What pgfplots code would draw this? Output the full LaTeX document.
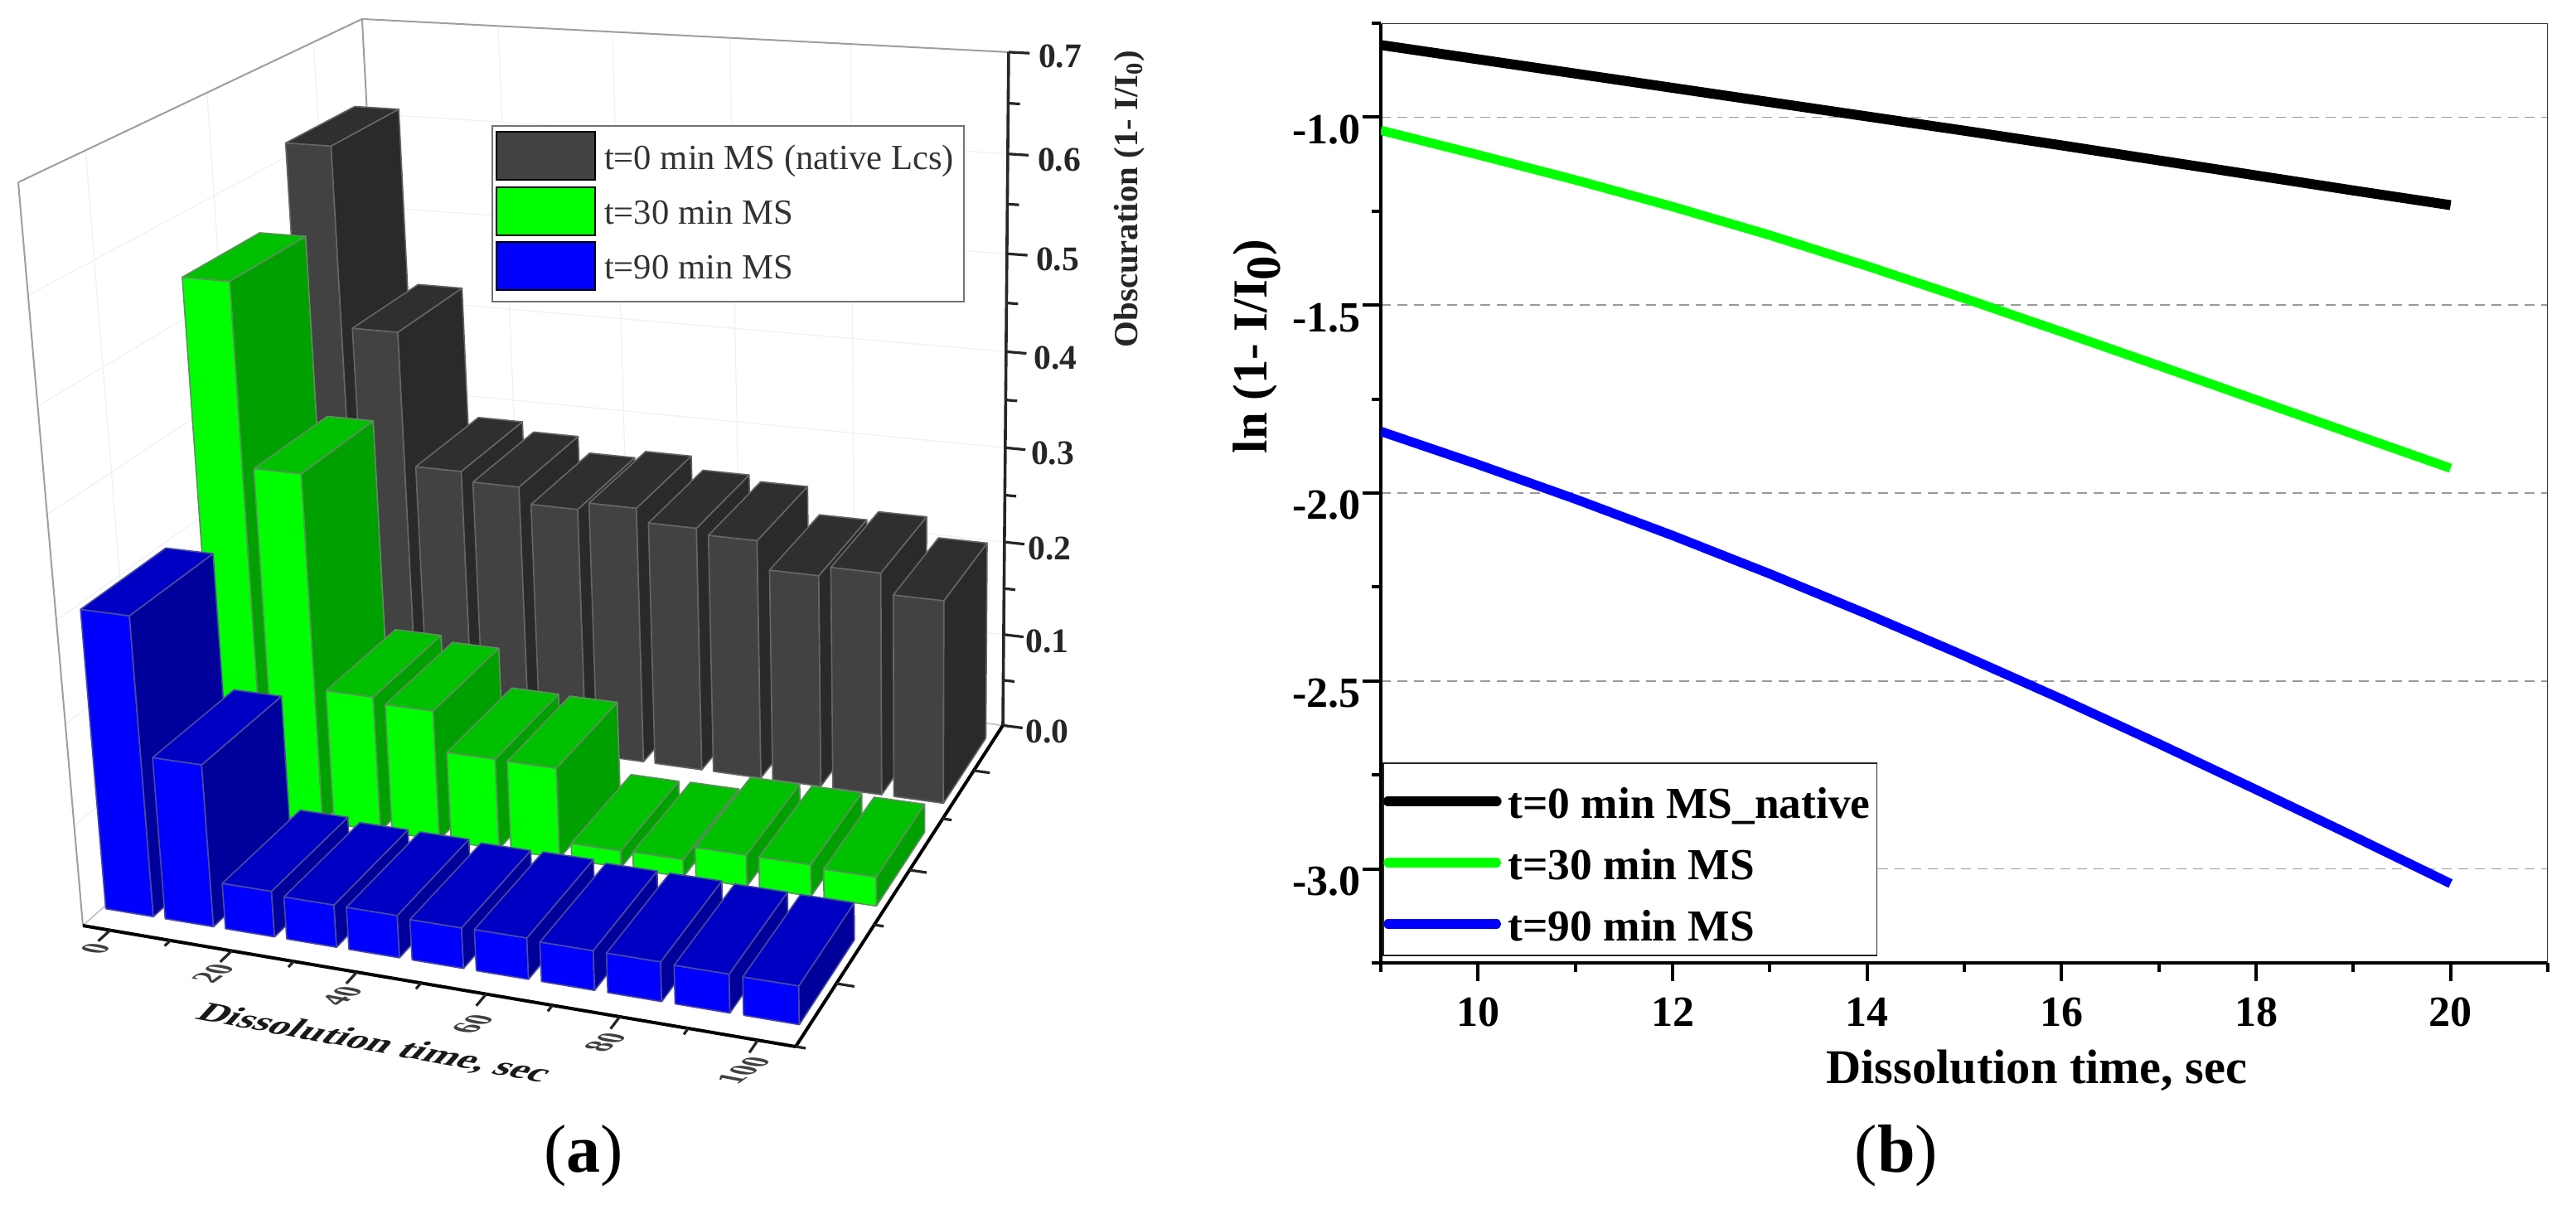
\documentclass[border=0pt]{standalone}
\usepackage{fontspec}
\setmainfont{Liberation Serif}
\usepackage{pgfplots}
\usepackage{pgfplotstable}
\pgfplotsset{compat=1.18}

\definecolor{grayfront}{HTML}{424242}
\definecolor{graytop}{HTML}{2F2F2F}
\definecolor{grayside}{HTML}{2A2A2A}
\definecolor{grayedge}{HTML}{666666}
\definecolor{greenfront}{HTML}{00FF00}
\definecolor{greentop}{HTML}{00C000}
\definecolor{greenside}{HTML}{00A000}
\definecolor{greenedge}{HTML}{5F8F5F}
\definecolor{bluefront}{HTML}{0000FF}
\definecolor{bluetop}{HTML}{0000C4}
\definecolor{blueside}{HTML}{00009A}
\definecolor{blueedge}{HTML}{4A4AA0}

% panel (a): obscuration against dissolution time
\pgfplotstableread{
t   native  mid     late
0   0.616   0.542   0.297
10  0.430   0.359   0.161
20  0.290   0.140   0.0456
30  0.280   0.134   0.0420
40  0.263   0.0931  0.0417
50  0.271   0.0926  0.0398
60  0.257   0.0171  0.0403
70  0.251   0.0178  0.0384
80  0.222   0.0320  0.0382
90  0.232   0.0318  0.0371
100 0.211   0.0292  0.0366
}\obsdata

% panel (b): ln(1-I/I0)
\pgfplotstableread{
t   native  mid     late
9   -0.808  -1.035  -1.836
10  -0.846  -1.100  -1.924
11  -0.884  -1.167  -2.016
12  -0.922  -1.238  -2.113
13  -0.960  -1.314  -2.215
14  -0.998  -1.396  -2.322
15  -1.036  -1.482  -2.433
16  -1.075  -1.571  -2.548
17  -1.115  -1.661  -2.667
18  -1.155  -1.752  -2.789
19  -1.195  -1.843  -2.913
20  -1.234  -1.934  -3.039
}\lndata

% perspective of the 3D box of panel (a): unit box to picture pixels
\newcommand\proj[3]{%
  \pgfmathsetmacro\prW{1-.084*(#1)+.2019*(#2)-.07176*(#3)}%
  \pgfmathsetmacro\prU{(100+779.36*(#1)+473.3*(#2)-79.58*(#3))/\prW}%
  \pgfmathsetmacro\prV{(1117+39.9*(#1)-178.3*(#2)-912.8*(#3))/\prW}%
}
\newcommand\startpts{\gdef\pts{}}
\newcommand\addpt[3]{\proj{#1}{#2}{#3}\xdef\pts{\pts(\prU,\prV)}}
\newcommand\flushpts[1]{%
  \edef\tmp{\noexpand\addplot[forget plot,#1] coordinates {\pts};}\tmp}
\newcommand\seg[7]{\startpts\addpt{#1}{#2}{#3}\addpt{#4}{#5}{#6}\flushpts{#7}}
% time in seconds to box coordinate
\newcommand\timeX[2]{\pgfmathsetmacro#1{.0417+.0091*(#2)}}

% #1 time, #2 front of the row, #3 value, #4 colour stem
\newcommand\drawbar[4]{%
  \timeX\Xc{#1}%
  \pgfmathsetmacro\Xa{\Xc-.0365}%
  \pgfmathsetmacro\Xb{\Xc+.0365}%
  \pgfmathsetmacro\Yb{#2+.233}%
  \pgfmathsetmacro\Zt{(#3)/.7}%
  \startpts\addpt{\Xa}{#2}{0}\addpt{\Xb}{#2}{0}\addpt{\Xb}{#2}{\Zt}\addpt{\Xa}{#2}{\Zt}\addpt{\Xa}{#2}{0}%
  \flushpts{fill=#4front,draw=#4edge,line width=.4pt,line join=round}%
  \startpts\addpt{\Xb}{#2}{0}\addpt{\Xb}{\Yb}{0}\addpt{\Xb}{\Yb}{\Zt}\addpt{\Xb}{#2}{\Zt}\addpt{\Xb}{#2}{0}%
  \flushpts{fill=#4side,draw=#4edge,line width=.4pt,line join=round}%
  \startpts\addpt{\Xa}{#2}{\Zt}\addpt{\Xb}{#2}{\Zt}\addpt{\Xb}{\Yb}{\Zt}\addpt{\Xa}{\Yb}{\Zt}\addpt{\Xa}{#2}{\Zt}%
  \flushpts{fill=#4top,draw=#4edge,line width=.4pt,line join=round}%
}
\newcommand\drawrow[3]{%
  \foreach \i in {0,...,10}{%
    \pgfplotstablegetelem{\i}{t}\of\obsdata\let\tv\pgfplotsretval
    \pgfplotstablegetelem{\i}{#1}\of\obsdata\let\vv\pgfplotsretval
    \drawbar{\tv}{#2}{\vv}{#3}%
  }%
}
\tikzset{
  floortext/.style={cm={.72,.5,-1.05,.2,(0,0)},transform shape,text=black!75,
    font=\fontsize{10}{10}\selectfont\bfseries},
  ztick/.style={font=\fontsize{10.4}{10.4}\selectfont\bfseries,text=black!85},
}

\begin{document}
\begin{tikzpicture}
\useasboundingbox (0,0) rectangle (777pt,364.5pt);

\begin{axis}[
  name=left,
  at={(0pt,0pt)},anchor=south west,
  scale only axis,width=388.5pt,height=364.5pt,
  xmin=0,xmax=1554,ymin=0,ymax=1458,y dir=reverse,
  hide axis,clip=false,
  legend image code/.code={\fill[#1] (3pt,-5.25pt) rectangle (32.75pt,9.25pt);\path (33.25pt,0pt);},
  legend cell align=left,
  legend style={at={(axis cs:593,151)},anchor=north west,draw=black!55,line width=.5pt,
    inner xsep=1pt,inner ysep=1.6pt,row sep=-.2pt,
    nodes={font=\fontsize{10.66}{12}\selectfont,text=black!80,inner ysep=0pt,inner xsep=2pt,
      text height=9.25pt,text depth=5.25pt}},
]
\addlegendimage{fill=grayfront}\addlegendentry{t=0 min MS (native Lcs)}
\addlegendimage{fill=greenfront}\addlegendentry{t=30 min MS}
\addlegendimage{fill=bluefront}\addlegendentry{t=90 min MS}

% faint grid on the walls
\foreach \z in {.14286,.28571,.42857,.57143,.71429,.85714}{%
  \seg{0}{0}{\z}{0}{1}{\z}{black!6,line width=.3pt}%
  \seg{0}{1}{\z}{1}{1}{\z}{black!6,line width=.3pt}}
\foreach \y in {.16667,.5,.83333}{\seg{0}{\y}{0}{0}{\y}{1}{black!6,line width=.3pt}}
\foreach \x in {.2237,.4057,.5877,.7697}{\seg{\x}{1}{0}{\x}{1}{1}{black!6,line width=.3pt}}

% box edges
\seg{0}{0}{0}{0}{0}{1}{black!38,line width=.5pt}
\seg{0}{0}{1}{0}{1}{1}{black!38,line width=.5pt}
\seg{0}{1}{1}{1}{1}{1}{black!38,line width=.5pt}
\seg{0}{1}{0}{0}{1}{1}{black!38,line width=.5pt}
\seg{0}{0}{0}{0}{1}{0}{black!25,line width=.4pt}
\seg{0}{1}{0}{1}{1}{0}{black!25,line width=.4pt}

% bars, back row first
\drawrow{native}{.715}{gray}
\drawrow{mid}{.385}{green}
\drawrow{late}{.0525}{blue}

% axes
\seg{0}{0}{0}{1}{0}{0}{black,line width=1pt}
\seg{1}{0}{0}{1}{1}{0}{black,line width=1pt}
\seg{1}{1}{0}{1}{1}{1}{black!85,line width=.9pt}
\foreach \t in {0,20,40,60,80,100}{\timeX\xx{\t}\seg{\xx}{0}{0}{\xx}{-.032}{0}{black!85,line width=.8pt}}
\foreach \t in {10,30,50,70,90}{\timeX\xx{\t}\seg{\xx}{0}{0}{\xx}{-.016}{0}{black!85,line width=.8pt}}
\foreach \y in {.16667,.5,.83333}{\seg{1}{\y}{0}{1.024}{\y}{0}{black!85,line width=.8pt}}
\foreach \y in {0,.33333,.66667}{\seg{1}{\y}{0}{1.013}{\y}{0}{black!85,line width=.8pt}}
\foreach \z in {0,.14286,.28571,.42857,.57143,.71429,.85714,1}{\seg{1}{1}{\z}{1.03}{1}{\z}{black!85,line width=.8pt}}
\foreach \z in {.07143,.21429,.35714,.5,.64286,.78571,.92857}{\seg{1}{1}{\z}{1.017}{1}{\z}{black!85,line width=.8pt}}

% tick labels and titles
\node[ztick] at (axis cs:1279,68) {0.7};
\node[ztick] at (axis cs:1278,193) {0.6};
\node[ztick] at (axis cs:1276,313) {0.5};
\node[ztick] at (axis cs:1273.5,432) {0.4};
\node[ztick] at (axis cs:1270,547) {0.3};
\node[ztick] at (axis cs:1266.5,662) {0.2};
\node[ztick] at (axis cs:1263.5,773.5) {0.1};
\node[ztick] at (axis cs:1263.5,883) {0.0};
\node[floortext] at (axis cs:115,1145) {0};
\node[floortext] at (axis cs:257,1175) {20};
\node[floortext] at (axis cs:412,1202) {40};
\node[floortext] at (axis cs:570,1236) {60};
\node[floortext] at (axis cs:730,1258) {80};
\node[floortext] at (axis cs:897,1292) {100};
\node[cm={.98,-.18,.55,.6,(0,0)},transform shape,font=\fontsize{12.3}{12.3}\selectfont\bfseries,text=black!90]
  at (axis cs:451,1260) {Dissolution time, sec};
\node[rotate=90,font=\fontsize{10.2}{10.2}\selectfont\bfseries,text=black!85]
  at (axis cs:1363,240) {Obscuration (1- I/I\textsubscript{0})};
\node[font=\fontsize{20.5}{20.5}\selectfont] at (axis cs:704,1395) {(\textbf{a})};
\end{axis}

\begin{axis}[
  name=right,
  at={(416.5pt,74pt)},anchor=south west,
  scale only axis,width=352pt,height=283.5pt,
  xmin=9,xmax=21,ymin=-3.25,ymax=-.75,
  clip mode=individual,
  axis lines*=left,
  axis line style={line width=1pt},
  xtick={10,12,...,20},minor xtick={9,11,...,21},
  ytick={-3,-2.5,-2,-1.5,-1},minor ytick={-3.25,-2.75,-2.25,-1.75,-1.25,-.75},
  yticklabels={-3.0,-2.5,-2.0,-1.5,-1.0},
  tick align=outside,
  major tick length=5.5pt,minor tick length=2.75pt,
  tick style={line width=1pt,black},
  ymajorgrids,
  grid style={densely dashed,black!40,line width=.4pt},
  tick label style={font=\fontsize{13}{13}\selectfont\bfseries},
  yticklabel style={xshift=3pt,yshift=-3.75pt,/pgf/number format/assume math mode=true},
  xticklabel style={yshift=-1.5pt,/pgf/number format/assume math mode=true},
  xlabel={Dissolution time, sec},
  ylabel={ln (1- I/I\raisebox{-.27em}{0})},
  xlabel style={at={(axis description cs:.562,-.1146)},anchor=center,font=\fontsize{14.6}{14.6}\selectfont\bfseries},
  ylabel style={at={(axis description cs:-.1065,.656)},anchor=center,font=\fontsize{14.7}{14.7}\selectfont\bfseries},
  legend image code/.code={\draw[#1,line cap=round] (.4pt,-1pt) -- (33.1pt,-1pt);},
  legend cell align=left,
  legend style={at={(axis cs:9.017,-3.232)},anchor=south west,draw=black!85,line width=.4pt,
    inner xsep=0pt,inner ysep=3pt,row sep=3.5pt,fill=white,
    nodes={font=\fontsize{13.35}{15}\selectfont\bfseries,inner ysep=0pt,inner xsep=2pt,
      text height=13.5pt,text depth=1.5pt}},
]
\addplot[black,line width=3pt] table[x=t,y=native] {\lndata};
\addplot[green,line width=2.8pt] table[x=t,y=mid] {\lndata};
\addplot[blue,line width=2.8pt] table[x=t,y=late] {\lndata};
\legend{t=0 min MS\_native,t=30 min MS,t=90 min MS}
\addplot[forget plot,black!80,line width=.5pt] coordinates {(9,-.75) (21,-.75) (21,-3.25)};
\node[font=\fontsize{20.5}{20.5}\selectfont] at (axis description cs:.4418,-.2055) {(\textbf{b})};
\end{axis}
\end{tikzpicture}
\end{document}
